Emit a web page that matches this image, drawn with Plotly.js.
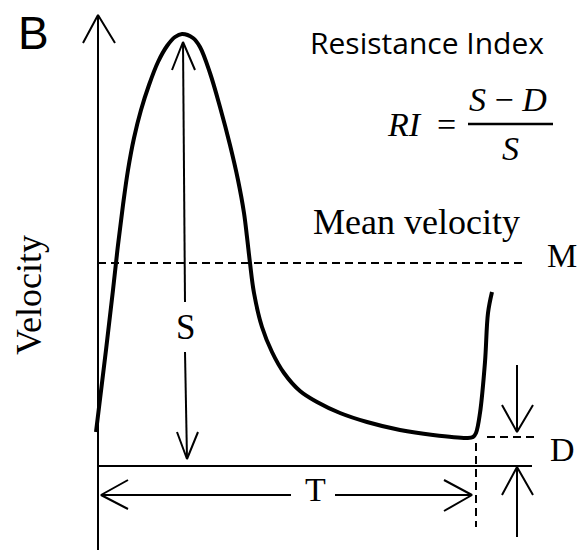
<!DOCTYPE html>
<html>
<head>
<meta charset="utf-8">
<script src="https://cdn.plot.ly/plotly-3.0.1.min.js"></script>
<style>html,body{margin:0;padding:0;background:#fff;}#chart{width:577px;height:560px;}</style>
</head>
<body>
<div id="chart"></div>
<script>
// Doppler waveform (diagram units: horizontal = time, vertical = velocity, screen-like scale)
var waveX = [96,106,113,118,123,128,134,141,149,158,167,175,182,193,200,210,220,230,238,244,247,250,254,262,272,284,300,317,340,367,400,433,467,473,476,480,485,488,492];
var waveY = [432,350,290,245,205,170,138,110,85,62,46,37,34,38,47,73,107,145,180,213,237,263,293,327,352,373,391,402,413,422,430,435,438,437,433,413,362,313,292];

// Axes
var axisX = [98,98,null,98,532];
var axisY = [15,550,null,466,466];
var axisHeadX = [83,98,115];
var axisHeadY = [43,15,43];

// Levels
var meanLevel = 263;       // M
var diastolicLevel = 437;  // D
var cycleEnd = 476;        // end of T

var meanLineX = [98,527];
var dLineX = [487,535];
var endLineY = [443,527];

// S arrow
var sArrowX = [183,185,null,185,187,null,172,183,195,null,177,187,198];
var sArrowY = [42,302,null,352,459,null,70,42,70,null,432,459,432];
// T arrow
var tArrowX = [101,291,null,335,472,null,128,101,128,null,444,472,444];
var tArrowY = [495,495,null,495,495,null,480,495,509,null,480,495,511];
// D arrows
var dArrowX = [517,517,null,502,517,533,null,517,517,null,502,517,533];
var dArrowY = [365,432,null,405,432,405,null,467,537,null,495,467,495];
// fraction bar
var fracX = [468,553];
var fracY = [124,124];

var black = '#000';
var traces = [
  {x: waveX, y: waveY, mode: 'lines', line: {color: black, width: 4, shape: 'spline', smoothing: 1}},
  {x: axisX, y: axisY, mode: 'lines', line: {color: black, width: 2}},
  {x: axisHeadX, y: axisHeadY, mode: 'lines', line: {color: black, width: 2}},
  {x: meanLineX, y: [meanLevel, meanLevel], mode: 'lines', line: {color: black, width: 2, dash: '8px,5px'}},
  {x: dLineX, y: [diastolicLevel, diastolicLevel], mode: 'lines', line: {color: black, width: 2, dash: '8px,5px'}},
  {x: [cycleEnd, cycleEnd], y: endLineY, mode: 'lines', line: {color: black, width: 2, dash: '8px,5px'}},
  {x: sArrowX, y: sArrowY, mode: 'lines', line: {color: black, width: 2}},
  {x: tArrowX, y: tArrowY, mode: 'lines', line: {color: black, width: 2}},
  {x: dArrowX, y: dArrowY, mode: 'lines', line: {color: black, width: 2}},
  {x: fracX, y: fracY, mode: 'lines', line: {color: black, width: 2.5}}
];

var serif = 'Liberation Serif, Times New Roman, serif';
function ann(text, x, y, size, family, extra) {
  var a = {text: text, x: x, y: y, xref: 'x', yref: 'y', showarrow: false,
           xanchor: 'center', yanchor: 'middle', font: {size: size, family: family, color: black}};
  for (var k in extra) a[k] = extra[k];
  return a;
}
var annotations = [
  ann('B', 33, 33, 46, 'Liberation Sans, Arial, sans-serif'),
  ann('Resistance Index', 427, 42, 30, 'Open Sans, sans-serif'),
  ann('<i>RI</i>\u00a0\u00a0=', 458, 124, 34, serif, {xanchor: 'right'}),
  ann('<i>S</i> \u2212 <i>D</i>', 508, 99, 34, serif),
  ann('<i>S</i>', 510, 148, 34, serif),
  ann('Mean velocity', 416, 222, 36, serif),
  ann('M', 562, 255, 34, serif),
  ann('D', 562, 449, 34, serif),
  ann('Velocity', 29, 295, 36, serif, {textangle: -90}),
  ann('S', 185, 327, 35, serif),
  ann('T', 315, 489, 34, serif)
];

var layout = {
  width: 577, height: 560,
  margin: {l: 0, r: 0, t: 0, b: 0},
  paper_bgcolor: '#fff', plot_bgcolor: '#fff',
  showlegend: false, hovermode: false,
  xaxis: {range: [0, 577], visible: false, fixedrange: true},
  yaxis: {range: [560, 0], visible: false, fixedrange: true},
  annotations: annotations
};
Plotly.newPlot('chart', traces, layout, {staticPlot: true, displayModeBar: false});
</script>
</body>
</html>
